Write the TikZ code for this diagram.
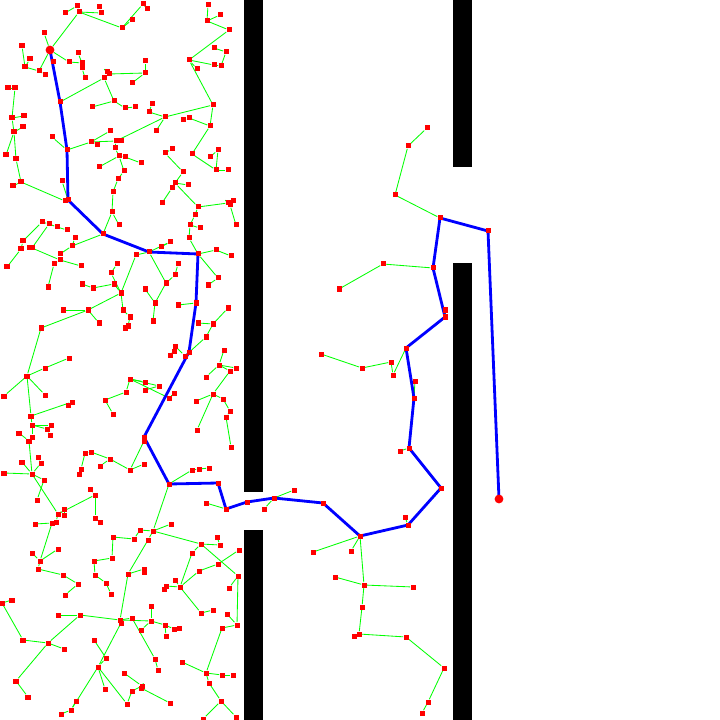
\documentclass[tikz,border=0pt]{standalone}
\usetikzlibrary{backgrounds}
\begin{document}
\begin{tikzpicture}[
  x=0.025cm, y=-0.025cm,
  vtx/.style={fill=red, inner sep=0pt, minimum size=0.125cm},
  term/.style={circle, fill=red, inner sep=0pt, minimum size=0.22cm},
  twig/.style={green, line width=0.6pt},
  route/.style={blue, line width=2pt, line join=round},
  wall/.style={fill=black}
]
  \useasboundingbox (0,0) rectangle (720,720);

  % Walls
  \fill[wall] (244,0) rectangle (263,492);
  \fill[wall] (244,530) rectangle (263,720);
  \fill[wall] (453,0) rectangle (472,167);
  \fill[wall] (453,263) rectangle (472,720);

  % Path vertices
  \foreach \n/\x/\y in {p1/488/231, p2/440/218, p3/433/268, p4/445/317, p5/406/348,
      p6/414/398, p7/409/448, p8/441/488, p9/408/525, p10/360/536, p11/323/503,
      p12/274/498, p13/247/502, p14/226/509, p15/218/483, p16/169/484, p17/144/437,
      p18/189/352, p19/196/303, p20/198/254, p21/149/252, p22/103/234, p23/68/200,
      p24/67/150, p25/60/102}
    \node[vtx] (\n) at (\x,\y) {};
  \node[term] (p0) at (499,499) {};
  \node[term] (p26) at (50,50) {};

  % Tree vertices, left room
  \foreach \n/\x/\y in {a1/77/6, a2/65/13, a3/79/12, a4/99/7, a5/101/13, a6/143/4, a7/147/9,
      a8/132/20, a9/122/28, a10/44/33, a12/22/46, a13/30/59, a14/25/67, a15/39/71, a16/45/75,
      a17/53/62, a18/69/62, a19/78/53, a20/82/63, a21/82/68, a22/85/78, a23/107/72, a24/109/74,
      a25/104/78, a26/145/61, a27/145/73, a28/132/83, a29/8/88, a40/15/88, a30/208/5, a31/220/15,
      a32/207/21, a33/229/30, a34/189/60, a35/197/69, a36/214/48, a37/226/52, a38/214/65, a39/221/66}
    \node[vtx] (\n) at (\x,\y) {};
  \foreach \n/\x/\y in {b3/12/118, b4/24/116, b5/23/127, b6/14/132, b7/6/155, b8/16/159, b9/52/137,
      b11/92/107, b12/114/101, b13/125/108, b14/135/107, b15/152/104, b16/149/112, b17/165/117,
      b18/156/131, b19/213/105, b20/183/120, b21/189/118, b22/210/126, b23/110/131, b24/91/142,
      b25/97/145, b26/116/141, b27/121/141, b28/115/148, b29/119/156, b30/125/157, b31/141/163,
      b32/99/167, b33/124/171, b34/118/179, b35/165/153, b36/172/149, b37/183/172, b38/192/154,
      b39/218/150, b40/210/157, b41/216/170, b42/228/170}
    \node[vtx] (\n) at (\x,\y) {};
  \foreach \n/\x/\y in {c1/13/186, c2/21/182, c3/62/181, c4/65/201, c6/113/192, c8/112/212,
      c9/119/225, c11/42/222, c12/49/224, c13/57/227, c14/67/230, c15/23/241, c16/21/249,
      c17/30/248, c18/32/248, c19/75/238, c20/72/246, c21/60/254, c22/60/260, c23/54/264,
      c24/81/266, c25/7/267, c26/117/264, c27/175/183, c28/188/185, c29/172/188, c30/162/203,
      c31/198/207, c32/195/215, c33/228/203, c34/233/201, c35/230/205, c36/236/225, c37/190/225,
      c38/200/228, c39/189/238, c40/170/242, c41/161/247, c43/136/255, c45/216/250, c46/231/256,
      c47/178/264}
    \node[vtx] (\n) at (\x,\y) {};
  \foreach \n/\x/\y in {d1/48/287, d2/82/284, d3/93/288, d4/114/284, d5/111/273, d6/121/293,
      d7/63/310, d8/88/310, d9/99/323, d10/123/310, d11/130/317, d12/128/326, d13/125/328,
      d14/41/328, d15/145/289, d16/155/303, d17/153/321, d18/166/283, d19/175/275, d20/178/305,
      d22/218/278, d23/208/285, d24/228/308, d25/198/323, d26/213/324, d27/206/337, d28/224/350,
      d29/175/346, d30/174/351, d31/170/355, d32/185/356, d34/69/358}
    \node[vtx] (\n) at (\x,\y) {};
  \foreach \n/\x/\y in {e1/45/368, e2/27/376, e3/4/396, e4/45/395, e6/72/402, e7/68/405,
      e8/31/416, e9/32/425, e10/51/425, e11/47/429, e12/50/435, e13/19/433, e14/32/437,
      e15/29/441, e16/130/379, e17/145/382, e18/159/386, e19/145/390, e20/126/392, e21/105/400,
      e22/113/414, e23/174/393, e24/169/398, e26/144/441, e27/219/365, e28/230/371, e29/236/368,
      e30/206/377, e31/213/394, e32/196/401, e33/223/399, e34/230/411, e35/226/417, e36/197/430,
      e37/231/447}
    \node[vtx] (\n) at (\x,\y) {};
  \foreach \n/\x/\y in {f1/38/457, f2/41/463, f3/22/462, f4/4/473, f5/32/474, f6/44/480,
      f7/37/500, f8/85/453, f9/91/452, f10/81/469, f11/79/474, f12/110/459, f13/100/466,
      f14/130/470, f15/144/464, f16/90/489, f17/95/495, f18/95/518, f19/100/522, f20/58/514,
      f21/64/509, f22/64/515, f23/35/524, f24/52/523, f25/56/522, f34/217/537, f35/171/524,
      f36/153/531, f37/140/530, f38/113/537, f39/134/539, f40/148/540,
      w1/192/470, w2/199/469, w3/209/468, w4/206/503}
    \node[vtx] (\n) at (\x,\y) {};
  \foreach \n/\x/\y in {g1/32/553, g2/58/549, g3/40/561, g4/38/569, g5/63/575, g6/78/584,
      g7/65/595, g8/2/603, g9/12/600, g10/58/615, g11/80/615, g12/112/558, g13/94/561,
      g14/95/575, g15/106/583, g16/111/594, g19/128/574, g20/144/569, g21/144/572, g22/120/620,
      g23/121/623, g24/132/618, g25/151/606, g26/151/621, g27/165/625, g28/174/629, g47/179/628,
      g29/201/544, g30/220/545, g31/192/553, g32/239/550, g33/218/564, g34/199/571, g35/238/576,
      g36/229/588, g37/175/580, g38/166/586, g39/164/589, g40/180/587, g41/201/613, g42/213/610,
      g43/227/614, g44/237/625, g45/222/628, g46/141/630}
    \node[vtx] (\n) at (\x,\y) {};
  \foreach \n/\x/\y in {h1/23/640, h2/48/643, h3/64/649, h4/16/681, h5/28/697, h6/94/640,
      h7/106/658, h8/98/667, h9/105/689, h10/76/701, h11/71/710, h12/61/714, h13/124/673,
      h14/142/686, h15/141/688, h16/132/691, h17/127/704, h18/170/703, h19/155/659, h20/158/670,
      h22/166/636, h24/182/662, h25/206/673, h26/222/675, h27/233/675, h28/209/683, h29/221/701,
      h30/203/719, h31/236/717}
    \node[vtx] (\n) at (\x,\y) {};

  % Tree vertices, middle room
  \foreach \n/\x/\y in {r1/427/128, r2/408/146, r3/395/195, r4/383/264, r5/339/289, r6/445/310,
      r7/393/375, r8/391/362, r9/362/368, r10/321/354, r11/415/381, r12/400/451, r13/405/517,
      r14/294/490, r15/264/509, r16/313/552, r17/351/551, r18/364/585, r19/335/577, r20/413/587,
      r21/362/607, r22/359/634, r23/354/636, r24/406/637, r25/444/668, r26/428/702, r27/422/713}
    \node[vtx] (\n) at (\x,\y) {};

  \begin{scope}[on background layer]
    % Tree edges
    \foreach \a/\b in {p26/a3, a3/a1, a1/a2, a3/a5, a5/a4, a3/a9, a9/a6, a6/a7, a9/a8, p26/a10,
        p26/a15, a15/a14, a14/a12, a14/a13, a15/a16, p26/a17, p26/a18, a18/a20, a20/a21, a21/a22,
        a20/a19, a24/a27, a27/a26, a27/a28, a24/a25, a23/a24, a30/a32, a32/a31, a32/a33, a33/a34,
        a34/a38, a38/a39, a39/a37, a37/a36, a34/a35, a29/a40, a40/b3}
      \draw[twig] (\a) -- (\b);
    \foreach \a/\b in {a25/p25, a25/b12, b12/b11, b12/b13, b13/b14, b15/b16, b16/b17, b17/b19,
        b17/b18, b17/b26, b19/b22, b22/b21, b21/b20, a34/b19, b22/b38, b38/b41, b41/b39, b39/b40,
        b41/b42, b35/b36, b35/b37, p24/b24, b24/b23, b24/b25, b24/b26, b26/b27, b26/b28, b28/b29,
        b29/b30, b30/b31, b29/b32, b29/b33, b33/b34, b9/p24, b3/b4, b3/b6, b6/b5, b6/b7, b6/b8}
      \draw[twig] (\a) -- (\b);
    \foreach \a/\b in {c1/c2, b8/c2, c2/c4, c4/p23, c3/p23, c6/b34, c6/c8, c8/c9, c8/p22,
        p22/c20, c20/c19, c20/c21, c11/c12, c12/c13, c13/c14, c18/c12, c17/c18, c18/c22, c22/c21,
        c22/c24, c22/c23, c15/c16, c16/c25, c15/c11, b37/c27, c27/c29, c29/c30, c27/c28, c27/c31,
        c31/c33, c33/c34, c33/c35, c35/c36, c31/c32, c32/c37, c37/c38, c37/c39, c39/p20, p20/c45,
        c45/c46, p21/c40, c40/c41, p21/c43}
      \draw[twig] (\a) -- (\b);
    \foreach \a/\b in {c23/d1, d2/d3, d3/d4, d4/d6, d5/d6, c26/d5, c43/d6, d6/d8, d8/d7, d8/d9,
        d8/d14, d6/d10, d10/d11, d11/d12, d12/d13, d15/d16, d16/d18, d18/d19, p21/d18, c47/d19,
        d16/d17, d20/p19, d22/d23, p20/d22, d24/d26, d26/d25, d26/d27, d27/d32, d32/d29, d29/d30,
        d30/d31, d32/p18}
      \draw[twig] (\a) -- (\b);
    \foreach \a/\b in {d14/e2, e2/e1, e1/d34, e2/e3, e2/e4, e2/e8, e8/e9, e9/e10, e9/e11,
        e11/e12, e8/e6, e6/e7, e9/e14, e14/e15, e15/e13, e16/e20, e16/e17, e16/e18, e19/e18,
        e16/e24, e20/e21, e21/e22, e23/e24, p17/e26, d28/e27, e27/e28, e27/e29, e28/e31, e30/e27,
        e31/e32, e31/e33, e33/e34, e34/e35, e35/e37, e31/e36}
      \draw[twig] (\a) -- (\b);
    \foreach \a/\b in {e15/f5, f5/f4, f5/f3, f5/f2, f2/f1, f5/f6, f6/f7, f5/f20, f20/f17,
        f17/f16, f17/f18, f18/f19, f20/f21, f21/f22, f20/f25, f25/f24, f24/f23, f10/f8, f10/f11,
        f8/f9, f9/f12, f12/f13, f12/f14, f14/f15, e26/f14, p16/w1, w1/w2, w2/w3, p16/f36, f36/f35,
        f36/f37, f37/f39, f36/f40, f38/f39, w4/p14, f34/g30}
      \draw[twig] (\a) -- (\b);
    \foreach \a/\b in {f24/g3, g3/g1, g3/g2, g3/g4, g4/g5, g5/g6, g6/g7, g9/g8, g10/g11,
        g11/g22, f38/g12, g12/g13, g13/g14, g14/g15, g15/g16, f40/g19, g19/g22, g19/g20, g20/g21,
        g22/g23, g22/g24, g22/g26, g26/g25, g26/g27, g27/g28, g28/g47, f36/g29, g29/g30, g29/g31,
        g31/g40, g29/g35, g32/g33, g33/g34, g34/g40, g40/g37, g40/g38, g38/g39, g40/g41, g41/g42,
        g35/g36, g35/g44, g43/g44, g44/g45, g26/g46}
      \draw[twig] (\a) -- (\b);
    \foreach \a/\b in {g8/h1, h1/h2, h2/h3, h2/h4, h4/h5, g11/h2, g23/h8, h8/h11, h11/h10,
        h11/h12, h6/h7, h7/h8, h8/h9, h8/h17, h17/h16, h16/h14, h14/h15, h14/h13, h15/h18,
        g24/h19, h19/h20, g27/h22, h24/h25, h25/h26, h26/h27, g45/h25, h25/h28, h28/h29, h29/h30,
        h29/h31}
      \draw[twig] (\a) -- (\b);
    \foreach \a/\b in {p2/r3, r3/r2, r2/r1, p3/r4, r4/r5, p4/r6, p5/r7, r7/r8, r8/r9, r9/r10,
        p6/r11, p7/r12, p9/r13, p12/r14, p12/r15, p10/r16, p10/r17, p10/r18, r18/r19, r18/r20,
        r18/r21, r21/r22, r22/r23, r22/r24, r24/r25, r25/r26, r26/r27}
      \draw[twig] (\a) -- (\b);

    % Solution path
    \draw[route] (p0.center) \foreach \i in {1,...,26} { -- (p\i.center) };
  \end{scope}
\end{tikzpicture}
\end{document}
